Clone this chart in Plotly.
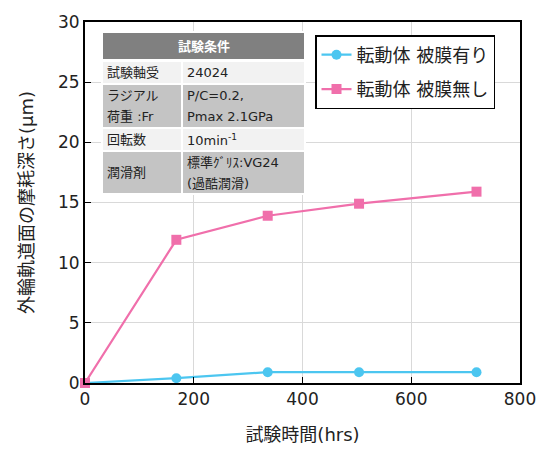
import plotly.graph_objects as go

# Test time (hours) and wear depth of the outer ring raceway (µm)
hours = [0, 168, 336, 504, 720]
coated = [0.0, 0.4, 0.9, 0.9, 0.9]
uncoated = [0.0, 11.9, 13.9, 14.9, 15.9]
series_names = ["転動体 被膜有り", "転動体 被膜無し"]

x_ticks = [0, 200, 400, 600, 800]
y_ticks = [0, 5, 10, 15, 20, 25, 30]

# Test-condition table rows: (label lines, value lines)
table_title = "試験条件"
table_rows = [
    (["試験軸受"], ["24024"]),
    (["ラジアル", "荷重 :Fr"], ["P/C=0.2,", "Pmax 2.1GPa"]),
    (["回転数"], ["10min<sup>-1</sup>"]),
    (["潤滑剤"], ["標準ｸﾞﾘｽ:VG24", "(過酷潤滑)"]),
]

W, H = 537, 455
L, R, T, B = 85, 520, 22, 383

BLUE = "#4cc6f0"
PINK = "#f06fab"
FONT = "DejaVu Sans, Noto Sans CJK JP"
TXT = "#222222"

fig = go.Figure()
fig.add_trace(go.Scatter(
    x=hours, y=coated, name=series_names[0], mode="lines+markers",
    line=dict(color=BLUE, width=2.2),
    marker=dict(symbol="circle", size=10, color=BLUE),
    legendgroup="a", cliponaxis=False,
))
fig.add_trace(go.Scatter(
    x=hours, y=uncoated, name=series_names[1], mode="lines+markers",
    line=dict(color=PINK, width=2.2),
    marker=dict(symbol="square", size=10, color=PINK),
    legendgroup="b", cliponaxis=False,
))


def px(x):
    return (x - L) / (R - L)


def py(y):
    return (B - y) / (B - T)


shapes = []
annotations = []

# Table geometry in page pixels
tx0, tx1, tcol = 103, 304, 182
header = (33, 59)
row_bounds = [(62, 83), (85, 127), (129, 150), (152, 193)]
row_fill = ["#f2f2f2", "#c4c4c4", "#f2f2f2", "#c4c4c4"]
line_gap = 21

shapes.append(dict(type="rect", xref="paper", yref="paper",
                   x0=px(tx0 - 2), x1=px(tx1 + 2), y0=py(header[0] - 2), y1=py(row_bounds[-1][1] + 2),
                   fillcolor="white", line=dict(width=0), layer="above"))
shapes.append(dict(type="rect", xref="paper", yref="paper",
                   x0=px(tx0), x1=px(tx1), y0=py(header[0]), y1=py(header[1]),
                   fillcolor="#808080", line=dict(width=0), layer="above"))
annotations.append(dict(xref="paper", yref="paper", x=px((tx0 + tx1) / 2), y=py((header[0] + header[1]) / 2),
                        text="<b>" + table_title + "</b>", showarrow=False,
                        font=dict(family=FONT, size=13, color="white"),
                        xanchor="center", yanchor="middle"))
for (label, value), (ya, yb), fill in zip(table_rows, row_bounds, row_fill):
    for xa, xb, lines in ((tx0, tcol - 1, label), (tcol + 1, tx1, value)):
        shapes.append(dict(type="rect", xref="paper", yref="paper",
                           x0=px(xa), x1=px(xb), y0=py(ya), y1=py(yb),
                           fillcolor=fill, line=dict(width=0), layer="above"))
        mid = (ya + yb) / 2
        first = mid - line_gap * (len(lines) - 1) / 2
        for i, txt in enumerate(lines):
            annotations.append(dict(xref="paper", yref="paper", x=px(xa + 2), y=py(first + i * line_gap),
                                    text=txt, showarrow=False, align="left",
                                    font=dict(family=FONT, size=13, color=TXT),
                                    xanchor="left", yanchor="middle"))

fig.update_layout(
    width=W, height=H,
    margin=dict(l=L, r=W - R, t=T, b=H - B),
    paper_bgcolor="white", plot_bgcolor="white",
    shapes=shapes, annotations=annotations,
    showlegend=True,
    legend=dict(
        x=px(315), y=py(35), xanchor="left", yanchor="top",
        bgcolor="white", bordercolor="black", borderwidth=1.5,
        font=dict(family=FONT, size=18, color=TXT),
        traceorder="grouped", tracegroupgap=8,
    ),
    xaxis=dict(
        range=[0, 800], tickvals=x_ticks, ticks="inside", ticklen=6, tickcolor="black",
        showgrid=True, gridcolor="#d9d9d9", gridwidth=1.3, automargin=False,
        showline=True, linecolor="black", linewidth=2, mirror=True, zeroline=False,
        tickfont=dict(family=FONT, size=17, color=TXT),
        title=dict(text="試験時間(hrs)", font=dict(family=FONT, size=18, color=TXT), standoff=20),
    ),
    yaxis=dict(
        range=[0, 30], tickvals=y_ticks, ticks="inside", ticklen=6, tickcolor="black",
        showgrid=True, gridcolor="#d9d9d9", gridwidth=1.3, automargin=False,
        showline=True, linecolor="black", linewidth=2, mirror=True, zeroline=False,
        tickfont=dict(family=FONT, size=17, color=TXT),
        title=dict(text="外輪軌道面の摩耗深さ(μm)", font=dict(family=FONT, size=18, color=TXT), standoff=20),
    ),
)

fig.write_html("out.html")
